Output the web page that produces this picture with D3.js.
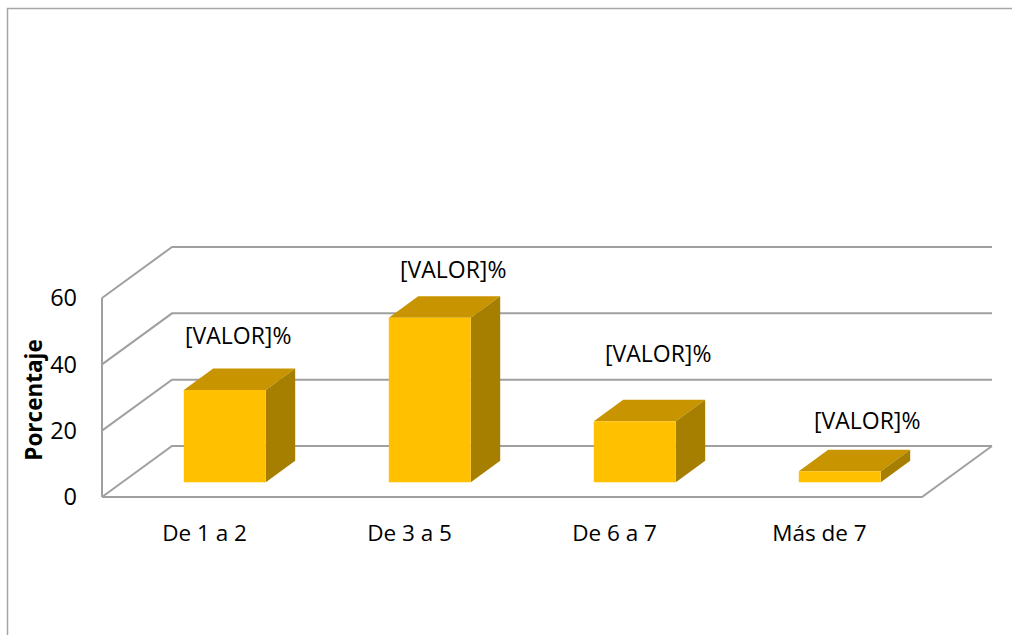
<!DOCTYPE html>
<html>
<head>
<meta charset="utf-8">
<script src="https://cdn.jsdelivr.net/npm/d3@7"></script>
<style>
  body { margin: 0; background: #fff; overflow: hidden; }
  svg { display: block; }
  text { font-family: "Open Sans", sans-serif; fill: #000; }
</style>
</head>
<body>
<div id="chart"></div>
<script>
// Data
const categories = ["De 1 a 2", "De 3 a 5", "De 6 a 7", "Más de 7"];
const values = [27.8, 49.6, 18.4, 3.3];
const barLabels = ["[VALOR]%", "[VALOR]%", "[VALOR]%", "[VALOR]%"];
const yTicks = [0, 20, 40, 60];

// label nudges (layout only)
const labelDx = [-16, -6, -6, -2];
const labelDy = [-33, -27, -46, -29];

const W = 1012, H = 635;

const svg = d3.select("#chart")
    .append("svg")
    .attr("width", W)
    .attr("height", H);

// Chart border (only top and left edges are inside the picture)
svg.append("path")
    .attr("d", `M7.5,${H}V8.5H${W}`)
    .attr("fill", "none")
    .attr("stroke", "#a6a6a6")
    .attr("stroke-width", 1.5);

// Oblique projection for the 3D box
const depthX = 70, depthY = -51;

const x = d3.scaleBand()
    .domain(categories)
    .range([102, 922]);

const y = d3.scaleLinear()
    .domain([0, 60])
    .range([497, 298]);

function project(px, v, d) {
    return [px + depthX * d, y(v) + depthY * d];
}

const gridColor = "#a0a0a0";
const walls = svg.append("g");

// Back wall gridlines and side wall lines
yTicks.forEach(t => {
    const fl = project(x.range()[0], t, 0);
    const bl = project(x.range()[0], t, 1);
    const br = project(x.range()[1], t, 1);
    walls.append("path")
        .attr("d", `M${fl}L${bl}L${br}`)
        .attr("fill", "none")
        .attr("stroke", gridColor)
        .attr("stroke-width", 2);
});

// Front vertical axis line
walls.append("line")
    .attr("x1", x.range()[0]).attr("y1", y(0))
    .attr("x2", x.range()[0]).attr("y2", y(60))
    .attr("stroke", gridColor)
    .attr("stroke-width", 2);

// Floor front and right edges
{
    const a = project(x.range()[0], 0, 0);
    const b = project(x.range()[1], 0, 0);
    const c = project(x.range()[1], 0, 1);
    walls.append("path")
        .attr("d", `M${a}L${b}L${c}`)
        .attr("fill", "none")
        .attr("stroke", gridColor)
        .attr("stroke-width", 2);
}

// Tick labels
svg.append("g")
    .selectAll("text")
    .data(yTicks)
    .join("text")
    .attr("x", 77)
    .attr("y", d => y(d))
    .attr("dy", "0.36em")
    .attr("text-anchor", "end")
    .attr("font-size", "23.5px")
    .text(d => d);

// Axis title
svg.append("text")
    .attr("transform", "translate(42,400) rotate(-90)")
    .attr("text-anchor", "middle")
    .attr("font-size", "22.5px")
    .attr("font-weight", "bold")
    .text("Porcentaje");

// Category labels
svg.append("g")
    .selectAll("text")
    .data(categories)
    .join("text")
    .attr("x", d => x(d) + x.bandwidth() / 2)
    .attr("y", 533)
    .attr("dy", "0.36em")
    .attr("text-anchor", "middle")
    .attr("font-size", "22.5px")
    .text(d => d);

// Bars
const d0 = 0.29, d1 = 0.71;
const barW = x.bandwidth() * 0.4;
const bars = svg.append("g");

categories.forEach((cat, i) => {
    const v = values[i];
    const xl = x(cat) + (x.bandwidth() - barW) / 2;
    const xr = xl + barW;

    const poly = pts => "M" + pts.map(p => p.join(",")).join("L") + "Z";

    // top face
    bars.append("path")
        .attr("d", poly([project(xl, v, d0), project(xr, v, d0), project(xr, v, d1), project(xl, v, d1)]))
        .attr("fill", "#c89500");

    // side face
    bars.append("path")
        .attr("d", poly([project(xr, v, d0), project(xr, 0, d0), project(xr, 0, d1), project(xr, v, d1)]))
        .attr("fill", "#a67e00");

    // front face
    bars.append("path")
        .attr("d", poly([project(xl, v, d0), project(xr, v, d0), project(xr, 0, d0), project(xl, 0, d0)]))
        .attr("fill", "#ffc000");

    // value label
    const top = project((xl + xr) / 2, v, d1);
    bars.append("text")
        .attr("x", top[0] + labelDx[i])
        .attr("y", top[1] + labelDy[i])
        .attr("dy", "0.36em")
        .attr("text-anchor", "middle")
        .attr("font-size", "23px")
        .text(barLabels[i]);
});
</script>
</body>
</html>
